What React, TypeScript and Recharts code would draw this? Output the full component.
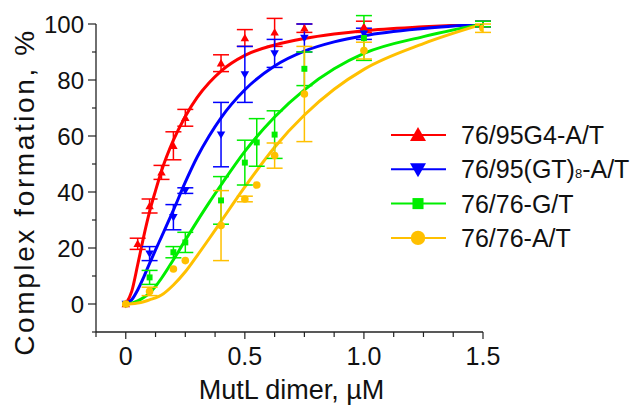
import { ComposedChart, Line, Scatter, XAxis, YAxis, ErrorBar, Legend } from 'recharts';

const FONT = '"Liberation Sans", Arial, sans-serif';
const AXIS = '#222';

// axis ticks
const X_TICKS = [-0.125, 0, 0.125, 0.25, 0.375, 0.5, 0.625, 0.75, 0.875, 1, 1.125, 1.25, 1.375, 1.5];
const X_LABELS: Record<string, string> = { '0': '0', '0.5': '0.5', '1': '1.0', '1.5': '1.5' };
const Y_TICKS = [-10, 0, 10, 20, 30, 40, 50, 60, 70, 80, 90, 100];
const Y_LABELS = [0, 20, 40, 60, 80, 100];

// measured points (MutL dimer, µM -> complex formation, %)
const RED_X = [0, 0.05, 0.1, 0.15, 0.2, 0.25, 0.4, 0.5, 0.625, 0.75, 1.0, 1.5];
const RED_Y = [0, 21.5, 35, 47, 56.5, 66.5, 86, 95, 97, 98.5, 99, 100];
const RED_ERR = [0, 2, 2.5, 2.5, 5, 3, 3, 3, 5, 1.5, 2, 1];

const BLUE_X = [0, 0.1, 0.2, 0.25, 0.4, 0.5, 0.625, 0.75, 1.0, 1.5];
const BLUE_Y = [0, 18, 31, 40.5, 60.5, 82, 89.5, 95, 96.5, 100];
const BLUE_ERR = [0, 2.5, 4.5, 1, 11.5, 10, 5, 5, 2, 1];

const GREEN_X = [0, 0.1, 0.2, 0.25, 0.4, 0.5, 0.55, 0.625, 0.75, 1.0, 1.5];
const GREEN_Y = [0, 9.5, 18.5, 22, 37, 50.5, 57.7, 60.5, 84, 95, 100];
const GREEN_ERR = [0, 2.5, 2, 3.6, 8.5, 8, 8.5, 8.5, 6, 8, 1];

const GOLD_X = [0, 0.1, 0.2, 0.25, 0.4, 0.5, 0.55, 0.625, 0.75, 1.0, 1.5];
const GOLD_Y = [0, 4.5, 12.5, 15.5, 28, 37.5, 42.5, 53, 75, 90.5, 98.5];
const GOLD_ERR = [0, 1.5, 0, 0, 12.5, 1, 0, 4.5, 17, 3, 1.5];

// fitted curves
const FIT_X = [0, 0.025, 0.05, 0.075, 0.1, 0.125, 0.15, 0.2, 0.25, 0.3, 0.35, 0.4, 0.5, 0.625, 0.75, 0.875, 1.0, 1.25, 1.5];
const RED_FIT = [0, 4.5, 14, 24, 33, 40.5, 47.5, 58.5, 67, 73.8, 79, 83.2, 88.8, 92.5, 94.8, 96.4, 97.6, 99, 100];
const BLUE_FIT = [0, 1.5, 5, 9.5, 14.5, 19.3, 24, 33.5, 43.5, 52.5, 60, 66.5, 76.5, 85, 90.3, 93.6, 95.8, 98.4, 100];
const GREEN_FIT = [0, 0.3, 1.1, 2.3, 3.9, 6.3, 9.2, 15.8, 22.8, 29.6, 36.2, 42.5, 54.5, 66.8, 76.5, 84, 89.5, 95.5, 100];
const GOLD_FIT = [0, 0.1, 0.35, 0.8, 1.5, 2.2, 3.2, 6.8, 11.5, 17.3, 23.3, 29.5, 41.8, 56, 67.5, 76.7, 83.8, 93, 100];

const SERIES = [
  { name: '76/95G4-A/T', color: '#ff0000', kind: 'up', xs: RED_X, ys: RED_Y, errs: RED_ERR, fit: RED_FIT },
  { name: '76/95(GT)8-A/T', color: '#0000ff', kind: 'down', xs: BLUE_X, ys: BLUE_Y, errs: BLUE_ERR, fit: BLUE_FIT },
  { name: '76/76-G/T', color: '#00ee00', kind: 'square', xs: GREEN_X, ys: GREEN_Y, errs: GREEN_ERR, fit: GREEN_FIT },
  { name: '76/76-A/T', color: '#ffc000', kind: 'circle', xs: GOLD_X, ys: GOLD_Y, errs: GOLD_ERR, fit: GOLD_FIT },
];

function Marker({ cx, cy, color, kind, size }: any) {
  const h = size / 2;
  if (kind === 'up')
    return <polygon points={`${cx},${cy - h} ${cx + h},${cy + h * 0.75} ${cx - h},${cy + h * 0.75}`} fill={color} />;
  if (kind === 'down')
    return <polygon points={`${cx},${cy + h} ${cx + h},${cy - h * 0.75} ${cx - h},${cy - h * 0.75}`} fill={color} />;
  if (kind === 'square') return <rect x={cx - h * 0.85} y={cy - h * 0.85} width={h * 1.7} height={h * 1.7} fill={color} />;
  return <circle cx={cx} cy={cy} r={h * 0.9} fill={color} />;
}

function XTick({ x, y, payload }: any) {
  const label = X_LABELS[String(payload.value)];
  return (
    <g>
      <line x1={x} x2={x} y1={y} y2={y + (label ? 7 : 5)} stroke={AXIS} strokeWidth={1.2} />
      {label && (
        <text x={x} y={y + 33} textAnchor="middle" fontSize={25} fontFamily={FONT} fill="#111">
          {label}
        </text>
      )}
    </g>
  );
}

function YTick({ x, y, payload }: any) {
  const major = Y_LABELS.includes(payload.value);
  return (
    <g>
      <line x1={x} x2={x - (major ? 8 : 4)} y1={y} y2={y} stroke={AXIS} strokeWidth={1.2} />
      {major && (
        <text x={x - 12} y={y + 8.5} textAnchor="end" fontSize={24} fontFamily={FONT} fill="#111">
          {payload.value}
        </text>
      )}
    </g>
  );
}

function LegendBox() {
  return (
    <svg width={250} height={150}>
      {SERIES.map((s, i) => {
        const cy = 17 + i * 34.3;
        return (
          <g key={s.name}>
            <line x1={3} x2={58} y1={cy} y2={cy} stroke={s.color} strokeWidth={2} />
            <Marker cx={30} cy={cy} color={s.color} kind={s.kind} size={s.kind === 'square' ? 13 : 16} />
            <text x={73} y={cy + 9} fontSize={25} fontFamily={FONT} fill="#111">
              {s.name.includes('(GT)8') ? (
                <>
                  76/95(GT)<tspan fontSize={13}>8</tspan>-A/T
                </>
              ) : (
                s.name
              )}
            </text>
          </g>
        );
      })}
    </svg>
  );
}

export default function App() {
  const points = SERIES.map((s) => s.xs.map((x, i) => ({ x, y: s.ys[i], err: s.errs[i] })));
  const curves = SERIES.map((s) => FIT_X.map((x, i) => ({ x, y: s.fit[i] })));

  return (
    <div style={{ position: 'absolute', left: 0, top: 0, width: 643, height: 405, background: '#fff' }}>
      <ComposedChart width={643} height={405} margin={{ top: 24, right: 160, bottom: 0, left: 0 }}>
        <XAxis
          dataKey="x"
          type="number"
          domain={[-0.125, 1.5]}
          ticks={X_TICKS}
          interval={0}
          height={73}
          tickSize={0}
          tickMargin={0}
          tickLine={false}
          tick={<XTick />}
          axisLine={{ stroke: AXIS, strokeWidth: 1.3 }}
          allowDataOverflow
          label={{
            content: ({ viewBox }: any) => (
              <text
                x={viewBox.x + viewBox.width / 2 + 2}
                y={viewBox.y + 67}
                textAnchor="middle"
                fontSize={27}
                fontFamily={FONT}
                fill="#111"
              >
                MutL dimer, µM
              </text>
            ),
          }}
        />
        <YAxis
          dataKey="y"
          type="number"
          domain={[-10, 100]}
          ticks={Y_TICKS}
          interval={0}
          width={96}
          tickSize={0}
          tickMargin={0}
          tickLine={false}
          tick={<YTick />}
          axisLine={{ stroke: AXIS, strokeWidth: 1.3 }}
          allowDataOverflow
          label={{
            content: ({ viewBox }: any) => {
              const cx = 34;
              const cy = viewBox.y + viewBox.height / 2 + 14;
              return (
                <text
                  x={cx}
                  y={cy}
                  transform={`rotate(-90 ${cx} ${cy})`}
                  textAnchor="middle"
                  fontSize={28}
                  letterSpacing={2.6}
                  fontFamily={FONT}
                  fill="#111"
                >
                  Complex formation, %
                </text>
              );
            },
          }}
        />
        {SERIES.map((s, i) => (
          <Line
            key={`fit-${s.name}`}
            data={curves[i]}
            dataKey="y"
            type="monotone"
            stroke={s.color}
            strokeWidth={3}
            dot={false}
            activeDot={false}
            legendType="none"
            isAnimationActive={false}
          />
        ))}
        {SERIES.map((s, i) => (
          <Scatter
            key={`pts-${s.name}`}
            name={s.name}
            data={points[i]}
            dataKey="y"
            fill={s.color}
            shape={(p: any) => <Marker cx={p.cx} cy={p.cy} color={s.color} kind={s.kind} size={s.kind === 'square' ? 7 : 8.5} />}
            isAnimationActive={false}
          >
            <ErrorBar dataKey="err" direction="y" width={8} stroke={s.color} strokeWidth={1.5} isAnimationActive={false} />
          </Scatter>
        ))}
        <Legend
          layout="vertical"
          align="center"
          verticalAlign="middle"
          wrapperStyle={{ left: 388, top: 118, width: 250, height: 150 }}
          content={() => <LegendBox />}
        />
      </ComposedChart>
    </div>
  );
}
